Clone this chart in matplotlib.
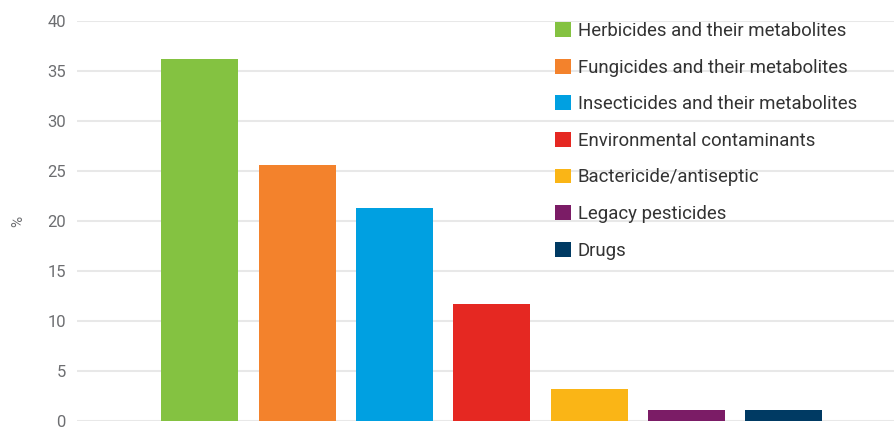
import matplotlib
matplotlib.use('Agg')
from matplotlib import pyplot as plt
from matplotlib.patches import Patch

plt.rcParams['font.family'] = ['Roboto', 'DejaVu Sans']

categories = ['Herbicides and their metabolites', 'Fungicides and their metabolites',
              'Insecticides and their metabolites', 'Environmental contaminants',
              'Bactericide/antiseptic', 'Legacy pesticides', 'Drugs']
share = [36.2, 25.6, 21.3, 11.7, 3.2, 1.1, 1.1]
colors = ['#84c241', '#f3822c', '#00a0e1', '#e52822', '#fab516', '#7b1c66', '#003a63']
yticks = [0, 5, 10, 15, 20, 25, 30, 35, 40]

fig = plt.figure(figsize=(8.94, 4.28), dpi=100)
ax = fig.add_axes([77 / 894, 7 / 428, 817 / 894, 400 / 428])

x = list(range(len(categories)))
ax.bar(x, share, width=0.79, color=colors, zorder=2)

ax.set_xlim(-1.26, 7.13)
ax.set_ylim(0, 40)
ax.set_yticks(yticks)
ax.set_xticks([])
ax.grid(axis='y', color='#e8e8e8', linewidth=1.5, zorder=0)
ax.tick_params(axis='y', length=0, pad=8, labelsize=12, labelcolor='#6d6e71')
for s in ax.spines.values():
    s.set_visible(False)

fig.text(18 / 894, 1 - 221 / 428, '%', rotation=90, color='#6d6e71', fontsize=11,
         ha='center', va='center')

handles = [Patch(facecolor=c, edgecolor='none') for c in colors]
ax.legend(handles, categories, loc='upper left', bbox_to_anchor=(555 / 894, 1 - 22 / 428),
          bbox_transform=fig.transFigure, frameon=False, fontsize=13.4,
          handlelength=0.86, handleheight=0.86, handletextpad=0.37, labelspacing=1.0,
          borderaxespad=0, borderpad=0, labelcolor='#333333')

fig.savefig('out.png', dpi=100, facecolor='white')
